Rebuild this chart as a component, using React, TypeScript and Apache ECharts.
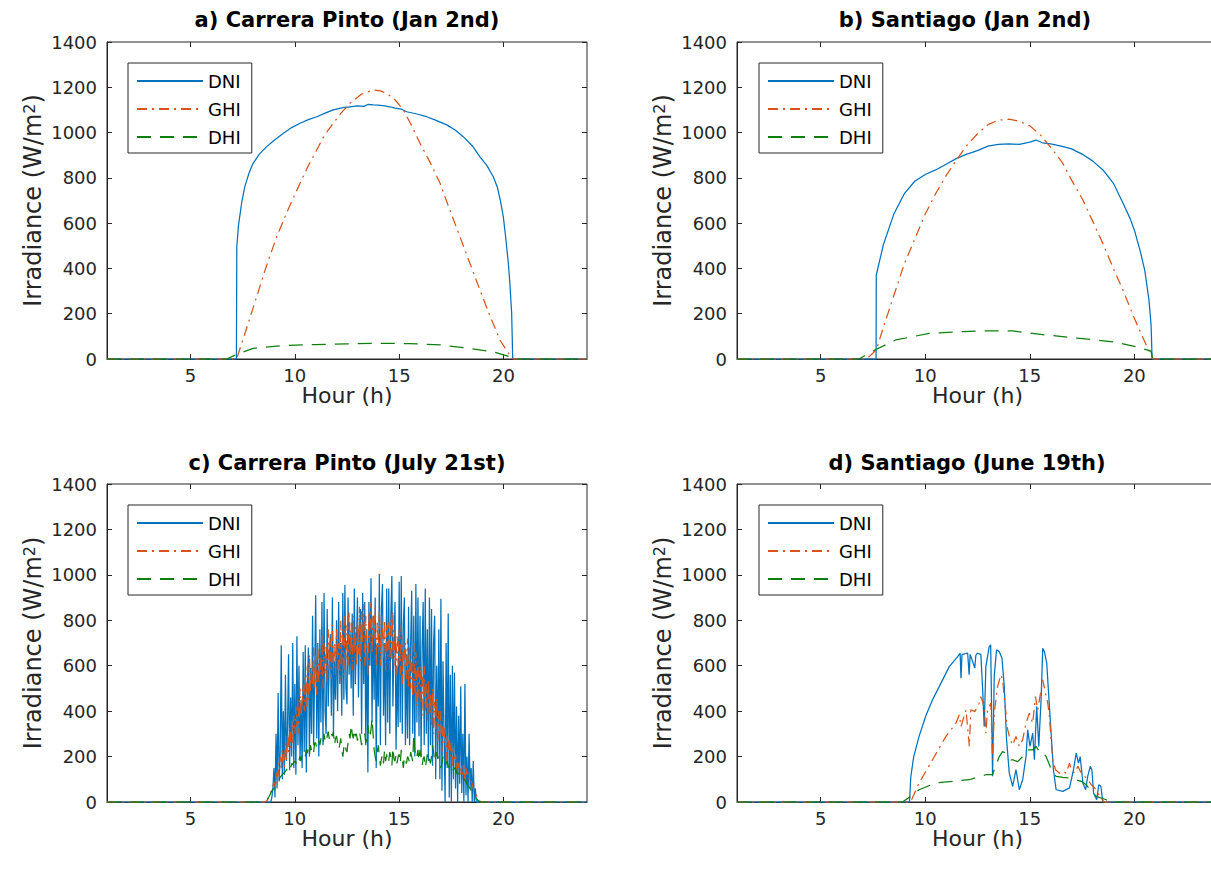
import React, { useEffect, useRef } from "react";
import * as echarts from "echarts";

// ---------------- DATA ----------------
const xTicks = [5, 10, 15, 20];
const seriesNames = ["DNI", "GHI", "DHI"];
const titles = [
  "a) Carrera Pinto (Jan 2nd)",
  "b) Santiago (Jan 2nd)",
  "c) Carrera Pinto (July 21st)",
  "d) Santiago (June 19th)",
];

// a) Carrera Pinto, Jan 2nd
const aDniHours = [1, 7.2, 7.22, 7.3, 7.45, 7.6, 7.8, 8.0, 8.3, 8.65, 9.0, 9.45, 9.85, 10.25, 10.65, 11.05, 11.45, 11.84, 12.0, 12.3, 12.64, 13.0, 13.3, 13.5, 13.76, 14.0, 14.3, 14.56, 14.8, 15.1, 15.36, 15.85, 16.32, 16.8, 17.28, 17.7, 18.07, 18.5, 18.87, 19.2, 19.51, 19.7, 19.85, 19.99, 20.1, 20.23, 20.3, 20.39, 20.44, 20.46, 24];
const aDniValues = [0, 0, 496, 590, 688, 760, 820, 864, 905, 938, 965, 997, 1022, 1041, 1057, 1070, 1086, 1100, 1104, 1110, 1114, 1118, 1116, 1124, 1122, 1121, 1118, 1114, 1108, 1104, 1092, 1082, 1070, 1053, 1034, 1010, 982, 942, 893, 855, 805, 760, 700, 628, 540, 423, 340, 202, 3, 0, 0];
const aGhiHours = [1, 7.21, 7.6, 8.17, 8.6, 9.13, 9.7, 10.25, 10.6, 11.05, 11.4, 11.84, 12.2, 12.64, 13.2, 13.76, 14.1, 14.4, 14.8, 15.2, 15.6, 16.0, 16.5, 16.96, 17.4, 17.91, 18.4, 18.87, 19.35, 19.83, 20.2, 20.47, 24];
const aGhiValues = [0, 0, 110, 275, 400, 540, 665, 776, 845, 923, 985, 1041, 1085, 1129, 1170, 1188, 1184, 1174, 1145, 1100, 1030, 953, 865, 776, 665, 540, 420, 305, 190, 84, 30, 0, 0];
const aDhiHours = [1, 6.73, 7.21, 8.0, 9.45, 11.0, 12.5, 14.0, 15.5, 17.0, 18.07, 19.5, 20.3, 20.47, 24];
const aDhiValues = [0, 0, 20, 47, 60, 64, 67, 69, 68, 62, 50, 32, 10, 0, 0];

// b) Santiago, Jan 2nd
const bDniHours = [1, 7.65, 7.66, 8.0, 8.5, 9.0, 9.5, 10.0, 10.5, 11.0, 11.5, 12.0, 12.5, 13.0, 13.5, 14.0, 14.5, 15.0, 15.3, 15.6, 16.0, 16.5, 17.0, 17.5, 18.0, 18.5, 19.0, 19.5, 19.8, 20.0, 20.3, 20.5, 20.7, 20.8, 20.85, 24];
const bDniValues = [0, 0, 371, 505, 640, 730, 785, 815, 835, 860, 886, 905, 920, 940, 948, 950, 948, 958, 967, 955, 950, 940, 928, 905, 875, 835, 776, 680, 620, 570, 470, 390, 260, 150, 0, 0];
const bGhiHours = [1, 7.2, 7.66, 8.0, 8.59, 9.0, 9.55, 10.0, 10.51, 11.0, 11.5, 12.0, 12.5, 13.0, 13.5, 14.0, 14.5, 15.0, 15.5, 16.0, 16.58, 17.0, 17.54, 18.0, 18.49, 19.0, 19.45, 20.0, 20.25, 20.6, 20.81, 20.9, 24];
const bGhiValues = [0, 0, 40, 140, 306, 420, 541, 640, 732, 810, 880, 945, 995, 1035, 1055, 1059, 1050, 1030, 990, 935, 864, 790, 702, 610, 511, 400, 305, 180, 128, 55, 18, 0, 0];
const bDhiHours = [1, 6.83, 7.6, 8.59, 10.19, 11.79, 12.5, 14.18, 15.78, 17.38, 18.97, 20.09, 20.8, 20.87, 24];
const bDhiValues = [0, 0, 40, 84, 113, 121, 124, 124, 106, 91, 76, 54, 35, 0, 0];

// c) Carrera Pinto, July 21st  (samples every 0.05 h from 8.5 h to 19.0 h, one row = 0.5 h)
const cStartHour = 8.5;
const cStepHour = 0.05;
const cDniValues = [
  0, 0, 0, 0, 0, 0, 0, 0, 20, 60,
  150, 20, 300, 60, 480, 90, 220, 690, 100, 400,
  120, 560, 180, 330, 650, 140, 460, 200, 700, 150,
  520, 120, 730, 250, 600, 180, 450, 150, 660, 220,
  690, 130, 500, 680, 200, 590, 300, 820, 250, 560,
  910, 280, 700, 200, 760, 350, 880, 250, 920, 400,
  300, 850, 420, 600, 740, 380, 900, 300, 620, 450,
  800, 400, 880, 520, 700, 380, 920, 450, 955, 500,
  430, 900, 560, 750, 500, 830, 380, 940, 520, 700,
  900, 460, 780, 850, 300, 920, 520, 880, 250, 760,
  130, 880, 600, 985, 350, 820, 450, 900, 150, 700,
  420, 1005, 250, 850, 960, 380, 700, 250, 940, 350,
  940, 300, 820, 995, 420, 700, 880, 230, 600, 330,
  970, 350, 995, 300, 780, 900, 250, 650, 280, 860,
  250, 700, 930, 300, 820, 200, 960, 350, 900, 290,
  820, 200, 680, 880, 250, 940, 300, 760, 180, 900,
  250, 850, 160, 700, 820, 100, 600, 200, 760, 100,
  895, 50, 620, 300, 0, 700, 150, 830, 20, 560,
  0, 600, 100, 570, 60, 420, 0, 380, 80, 510,
  40, 300, 0, 520, 30, 200, 0, 300, 60, 150,
  0, 180, 0, 60, 0, 0, 0, 0, 0, 0,
  0,
];
const cGhiValues = [
  0, 0, 2, 5, 10, 20, 30, 45, 50, 70,
  90, 60, 130, 80, 170, 110, 200, 140, 230, 160,
  150, 260, 180, 300, 220, 330, 240, 360, 260, 380,
  300, 420, 330, 460, 300, 500, 380, 430, 520, 400,
  560, 420, 600, 450, 650, 480, 590, 520, 680, 500,
  650, 470, 700, 520, 640, 560, 740, 500, 700, 560,
  690, 520, 760, 580, 720, 540, 780, 600, 700, 560,
  760, 580, 700, 520, 800, 600, 760, 560, 820, 620,
  780, 600, 840, 640, 790, 580, 820, 650, 770, 600,
  800, 650, 860, 620, 840, 700, 870, 600, 820, 680,
  560, 840, 700, 880, 650, 820, 720, 860, 600, 800,
  680, 850, 600, 820, 760, 640, 800, 580, 780, 640,
  790, 580, 800, 620, 840, 600, 760, 560, 740, 600,
  760, 560, 780, 520, 740, 600, 700, 540, 720, 500,
  680, 500, 640, 460, 700, 480, 660, 420, 620, 460,
  600, 430, 560, 380, 600, 400, 520, 360, 540, 380,
  480, 340, 500, 300, 440, 320, 460, 260, 400, 300,
  400, 220, 360, 260, 330, 180, 290, 220, 300, 200,
  260, 160, 240, 180, 210, 130, 200, 150, 170, 120,
  160, 110, 170, 90, 150, 120, 130, 100, 110, 90,
  80, 60, 50, 40, 30, 20, 10, 5, 2, 0,
  0,
];
const cDhiValues = [
  0, 2, 5, 10, 15, 22, 30, 40, 50, 55,
  60, 70, 80, 85, 90, 100, 110, 115, 120, 125,
  130, 135, 140, 150, 160, 145, 150, 170, 165, 175,
  180, 170, 190, 200, 185, 200, 180, 210, 195, 205,
  200, 230, 215, 240, 210, 250, 225, 240, 220, 260,
  260, 235, 240, 270, 250, 280, 260, 250, 300, 270,
  260, 290, 310, 280, 270, 300, 290, 310, 250, 280,
  290, 260, 230, 250, 280, 230, 200, 240, 260, 230,
  220, 260, 300, 280, 340, 300, 280, 320, 290, 300,
  270, 300, 310, 280, 250, 270, 290, 300, 260, 280,
  340, 300, 280, 320, 370, 300, 230, 200, 180, 220,
  250, 200, 160, 190, 210, 170, 230, 180, 210, 170,
  180, 220, 200, 160, 240, 190, 180, 210, 170, 200,
  210, 170, 230, 190, 150, 200, 180, 170, 200, 190,
  170, 220, 200, 180, 300, 230, 190, 200, 230, 180,
  230, 200, 160, 190, 200, 150, 180, 210, 170, 190,
  170, 200, 250, 220, 180, 200, 220, 190, 200, 180,
  150, 170, 200, 180, 160, 170, 180, 160, 150, 160,
  170, 150, 140, 150, 150, 130, 120, 130, 130, 120,
  110, 105, 100, 95, 90, 80, 70, 65, 60, 50,
  40, 30, 25, 20, 15, 10, 5, 2, 0, 0,
  0,
];

// d) Santiago, June 19th
const dDniHours = [1, 9.25, 9.31, 9.45, 9.71, 10.03, 10.35, 10.67, 11.15, 11.55, 11.67, 11.71, 11.76, 12.03, 12.1, 12.15, 12.37, 12.42, 12.5, 12.66, 12.74, 12.82, 12.9, 13.06, 13.13, 13.22, 13.3, 13.41, 13.54, 13.67, 13.78, 13.89, 14.02, 14.18, 14.34, 14.5, 14.66, 14.82, 14.9, 15.01, 15.14, 15.22, 15.33, 15.43, 15.54, 15.62, 15.7, 15.81, 15.91, 16.02, 16.13, 16.26, 16.58, 16.9, 17.09, 17.22, 17.33, 17.41, 17.54, 17.67, 17.77, 17.89, 17.97, 18.05, 18.2, 18.3, 18.4, 18.49, 24];
const dDniValues = [0, 0, 110, 200, 290, 380, 450, 508, 596, 640, 655, 545, 650, 655, 560, 650, 590, 645, 655, 650, 508, 332, 596, 684, 692, 113, 552, 670, 662, 633, 508, 274, 127, 69, 142, 54, 98, 200, 318, 245, 303, 186, 420, 245, 450, 677, 662, 611, 464, 303, 142, 54, 47, 62, 142, 215, 171, 200, 84, 54, 113, 157, 142, 40, 10, 76, 69, 0, 0];
const dGhiHours = [1, 9.3, 9.71, 10.35, 10.99, 11.47, 11.63, 11.71, 11.95, 12.11, 12.18, 12.37, 12.58, 12.66, 12.82, 12.9, 12.98, 13.14, 13.22, 13.3, 13.46, 13.62, 13.7, 13.83, 13.91, 14.02, 14.18, 14.34, 14.5, 14.66, 14.82, 14.98, 15.14, 15.27, 15.38, 15.54, 15.62, 15.75, 15.86, 15.94, 16.02, 16.1, 16.23, 16.42, 16.58, 16.74, 16.9, 16.98, 17.14, 17.3, 17.46, 17.62, 17.78, 17.94, 18.1, 18.25, 18.42, 18.55, 24];
const dGhiValues = [0, 0, 84, 186, 289, 347, 384, 332, 406, 245, 406, 398, 435, 464, 420, 303, 406, 435, 186, 391, 508, 560, 538, 420, 332, 290, 250, 289, 245, 274, 347, 391, 347, 464, 406, 494, 538, 479, 435, 376, 274, 186, 142, 127, 135, 127, 171, 142, 127, 157, 127, 113, 98, 76, 62, 40, 15, 0, 0];
const dDhiHours = [1, 8.91, 9.31, 9.71, 10.51, 11.31, 12.11, 12.9, 13.22, 13.3, 13.54, 13.7, 13.86, 14.1, 14.18, 14.42, 14.66, 14.9, 15.14, 15.3, 15.46, 15.62, 15.78, 15.94, 16.1, 16.26, 16.58, 16.9, 17.22, 17.46, 17.7, 17.94, 18.18, 18.65, 18.81, 24];
const dDhiValues = [0, 0, 25, 54, 84, 91, 98, 120, 120, 142, 200, 222, 215, 186, 186, 178, 200, 230, 230, 245, 222, 222, 200, 164, 127, 113, 108, 106, 98, 91, 76, 47, 25, 10, 0, 0];

// ---------------- HELPERS ----------------
const zip = (h: number[], v: number[]) => h.map((x, i) => [x, v[i]]);
const cHours = cDniValues.map((_, i) => Math.round((cStartHour + i * cStepHour) * 1000) / 1000);
const cPairs = (v: number[]) => [[1, 0], ...zip(cHours, v), [24, 0]];

const panelData = [
  [zip(aDniHours, aDniValues), zip(aGhiHours, aGhiValues), zip(aDhiHours, aDhiValues)],
  [zip(bDniHours, bDniValues), zip(bGhiHours, bGhiValues), zip(bDhiHours, bDhiValues)],
  [cPairs(cDniValues), cPairs(cGhiValues), cPairs(cDhiValues)],
  [zip(dDniHours, dDniValues), zip(dGhiHours, dGhiValues), zip(dDhiHours, dDhiValues)],
];

// ---------------- LAYOUT / STYLE ----------------
const FONT = "'DejaVu Sans', 'Liberation Sans', Arial, sans-serif";
const AX = "#262626";
const colors = ["#0072BD", "#D95319", "#0E7F0E"];
const dashTypes: any[] = ["solid", [10, 5, 2, 5], [14, 9]];

const gridRects = [
  { left: 107, top: 42, width: 480, height: 317 },
  { left: 737, top: 42, width: 481, height: 317 },
  { left: 107, top: 484, width: 480, height: 318 },
  { left: 737, top: 484, width: 481, height: 318 },
];
const legendPos = [
  { left: 128, top: 63 },
  { left: 759, top: 63 },
  { left: 128, top: 505 },
  { left: 759, top: 505 },
];
const titlePos = [
  { x: 347, y: 20 },
  { x: 965, y: 20 },
  { x: 347, y: 463 },
  { x: 967, y: 463 },
];

function buildOption() {
  const grid = gridRects.map((g) => ({
    ...g,
    show: true,
    borderColor: AX,
    borderWidth: 1,
    backgroundColor: "#fff",
    containLabel: false,
  }));
  const xAxis: any[] = [];
  const yAxis: any[] = [];
  gridRects.forEach((_, p) => {
    xAxis.push({
      gridIndex: p,
      type: "value",
      min: 1,
      max: 24,
      position: "bottom",
      axisLine: { show: true, onZero: false, lineStyle: { color: AX, width: 1 } },
      axisTick: { show: true, inside: true, length: 5, customValues: xTicks, lineStyle: { color: AX } },
      axisLabel: { customValues: xTicks, fontSize: 18, fontFamily: FONT, color: AX, margin: 7, formatter: (v: number) => String(v) },
      splitLine: { show: false },
      name: "Hour (h)",
      nameLocation: "middle",
      nameGap: 11,
      nameTextStyle: { fontSize: 22, fontFamily: FONT, color: AX },
    });
    xAxis.push({
      gridIndex: p,
      type: "value",
      min: 1,
      max: 24,
      position: "top",
      axisLine: { show: false, onZero: false },
      axisTick: { show: true, inside: true, length: 5, customValues: xTicks, lineStyle: { color: AX } },
      axisLabel: { show: false },
      splitLine: { show: false },
    });
    yAxis.push({
      gridIndex: p,
      type: "value",
      min: 0,
      max: 1400,
      interval: 200,
      position: "left",
      axisLine: { show: true, onZero: false, lineStyle: { color: AX, width: 1 } },
      axisTick: { show: true, inside: true, length: 5, lineStyle: { color: AX } },
      axisLabel: { fontSize: 18, fontFamily: FONT, color: AX, margin: 10, formatter: (v: number) => String(v) },
      splitLine: { show: false },
      name: "Irradiance (W/m{sup|2})",
      nameLocation: "middle",
      nameRotate: 90,
      nameGap: 62,
      nameMoveOverlap: false,
      nameTextStyle: {
        fontSize: 24,
        fontFamily: FONT,
        color: AX,
        rich: { sup: { fontSize: 16, fontFamily: FONT, color: AX, verticalAlign: "top", lineHeight: 16 } },
      },
    });
    yAxis.push({
      gridIndex: p,
      type: "value",
      min: 0,
      max: 1400,
      interval: 200,
      position: "right",
      axisLine: { show: false, onZero: false },
      axisTick: { show: true, inside: true, length: 5, lineStyle: { color: AX } },
      axisLabel: { show: false },
      splitLine: { show: false },
    });
  });

  const series: any[] = [];
  panelData.forEach((panel, p) => {
    panel.forEach((data, s) => {
      series.push({
        type: "line",
        name: seriesNames[s],
        xAxisIndex: p * 2,
        yAxisIndex: p * 2,
        data,
        symbol: "none",
        showSymbol: false,
        clip: true,
        z: 2 + s,
        lineStyle: { color: colors[s], width: 1.25, type: dashTypes[s] },
        itemStyle: { color: colors[s] },
      });
    });
  });

  const legend = legendPos.map((pos) => ({
    ...pos,
    orient: "vertical",
    data: seriesNames,
    selectedMode: false,
    icon: "inherit",
    itemStyle: { opacity: 0, borderWidth: 0 },
    backgroundColor: "#fff",
    borderColor: AX,
    borderWidth: 1,
    padding: [8, 11, 6, 8],
    itemWidth: 66,
    itemHeight: 20,
    itemGap: 8,
    textStyle: { fontSize: 18, fontFamily: FONT, color: "#000", lineHeight: 20 },
  }));

  const graphic = titles.map((t, i) => ({
    type: "text",
    x: titlePos[i].x,
    y: titlePos[i].y,
    style: {
      text: t,
      fill: "#000",
      font: `bold 21px ${FONT}`,
      align: "center",
      verticalAlign: "middle",
    },
  }));

  return {
    animation: false,
    backgroundColor: "#fff",
    grid,
    xAxis,
    yAxis,
    series,
    legend,
    graphic,
  };
}

export default function App() {
  const ref = useRef<HTMLDivElement>(null);
  useEffect(() => {
    if (!ref.current) return;
    const chart = echarts.init(ref.current, undefined, { renderer: "svg" });
    chart.setOption(buildOption() as any);
    return () => chart.dispose();
  }, []);
  return (
    <div
      style={{ position: "absolute", left: 0, top: 0, width: 1211, height: 873, overflow: "hidden", background: "#fff" }}
    >
      <div ref={ref} style={{ width: 1230, height: 873 }} />
    </div>
  );
}
